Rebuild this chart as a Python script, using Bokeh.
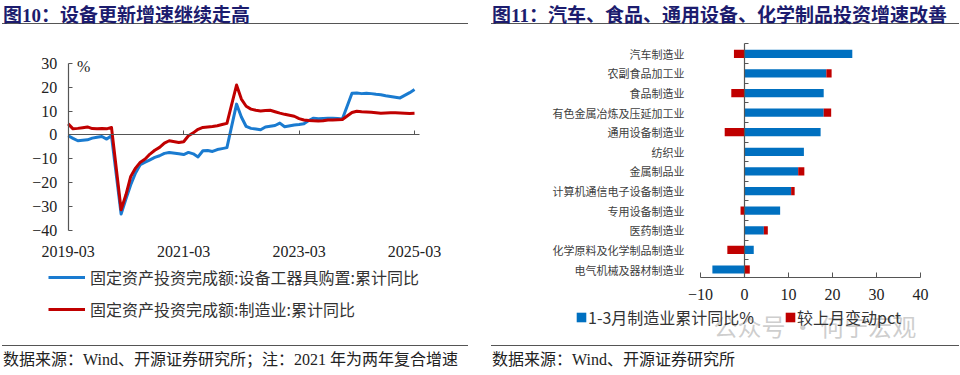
import numpy as np
from bokeh.plotting import figure
from bokeh.models import (ColumnDataSource, LinearAxis, FixedTicker, Legend, LegendItem,
                          Label, Div, Range1d)
from bokeh.layouts import row, column
from bokeh.embed import file_html
from bokeh.resources import INLINE

# ---------------- data: left chart (cumulative YoY, %) ----------------
months = [f"{y}-{m:02d}" for y in range(2019, 2026) for m in range(2, 13)
          if (2019, 3) <= (y, m) <= (2025, 3)]
equip = [-0.4, -1.5, -2.5, -2.3, -2.1, -1.4, -1.0, -0.7, -1.8, -0.4,
         -33.3, -27.0, -21.0, -16.0, -12.5, -11.5, -10.5, -9.5, -8.8, -7.8, -7.4,
         -8.0, -8.3, -7.4, -8.0, -9.3, -6.7, -6.6, -7.0, -6.2, -5.8, -5.4,
         12.9, 7.5, 3.5, 2.7, 2.4, 2.1, 3.3, 3.6, 3.9, 4.9, 3.4,
         4.1, 4.3, 4.6, 6.0, 7.0, 6.7, 6.9, 7.0, 7.0, 6.9, 6.6,
         17.5, 17.6, 17.3, 17.5, 17.3, 17.0, 16.8, 16.4, 16.1, 15.8, 15.5,
         17.7, 19.0]
manuf = [4.6, 2.5, 2.7, 3.0, 3.3, 2.6, 2.5, 2.6, 2.5, 3.1,
         -31.5, -25.2, -17.5, -14.0, -11.5, -10.2, -8.1, -6.5, -5.3, -3.5, -2.5,
         -3.2, -2.9, -0.4, 0.8, 2.3, 3.1, 3.3, 3.5, 3.8, 4.3, 4.8,
         20.9, 15.0, 12.0, 10.8, 10.3, 10.0, 10.2, 10.3, 9.7, 9.1, 8.6,
         7.8, 6.8, 6.2, 6.0, 5.9, 5.8, 5.9, 6.2, 6.2, 6.3, 6.4,
         9.4, 9.9, 9.7, 9.6, 9.5, 9.3, 9.1, 9.2, 9.3, 9.3, 9.2,
         9.0, 9.1]
left_ticks = ["2019-03", "2021-03", "2023-03", "2025-03"]
y_ticks_left = [-40, -30, -20, -10, 0, 10, 20, 30]

# ---------------- data: right chart ----------------
industries = ["汽车制造业", "农副食品加工业", "食品制造业", "有色金属冶炼及压延加工业",
              "通用设备制造业", "纺织业", "金属制品业", "计算机通信电子设备制造业",
              "专用设备制造业", "医药制造业", "化学原料及化学制品制造业", "电气机械及器材制造业"]
ytd_q1 = [24.5, 18.6, 18.0, 18.0, 17.3, 13.5, 12.2, 10.6, 8.1, 4.4, 2.1, -7.3]
chg_pct = [-2.4, 1.2, -3.0, 1.7, -4.5, 0.0, 1.4, 0.8, -0.9, 0.9, -3.9, 1.2]
x_ticks_right = [-10, 0, 10, 20, 30, 40]

BLUE_LINE = "#1a7bd0"
RED_LINE = "#c00000"
BLUE_BAR = "#0070c0"
RED_BAR = "#c00000"
NAVY = "#1c1c6e"
AXIS = "#555555"
CJK = "Noto Sans CJK SC"
SERIF = "Liberation Serif"

PANEL_W, FIG_H = 480, 312


def mindex(s):
    y, m = s.split("-")
    return (int(y) - 2019) * 12 + (int(m) - 3)


# ================= left figure (frame = whole figure, axes placed in data space) ==========
xm = [mindex(s) for s in months]
tpos = [mindex(s) for s in left_ticks]
src1 = ColumnDataSource(dict(x=xm, equip=equip, manuf=manuf))

# pixel layout of the left plot area inside the figure
L_X0, L_PXM = 67.7, 4.81          # x pixel of month 0, pixels per month
L_Y0, L_PXU = 134.3 - 33, 2.38     # y pixel (from top) of value 0, pixels per unit
lx_range = Range1d(-L_X0 / L_PXM, (PANEL_W - L_X0) / L_PXM)
ly_range = Range1d(-(FIG_H - L_Y0) / L_PXU, L_Y0 / L_PXU)

p1 = figure(width=PANEL_W, height=FIG_H, x_range=lx_range, y_range=ly_range,
            output_backend="svg", toolbar_location=None,
            x_axis_location=None, y_axis_location=None,
            min_border_left=0, min_border_right=0, min_border_top=0, min_border_bottom=0)
p1.outline_line_color = None
p1.grid.visible = False
p1.background_fill_color = "white"
p1.border_fill_color = "white"

yax = LinearAxis(fixed_location=0, bounds=(-40, 30), ticker=FixedTicker(ticks=y_ticks_left),
                 axis_line_color=AXIS, axis_line_width=1.2, major_tick_line_color=AXIS,
                 major_tick_in=4, major_tick_out=0,
                 minor_tick_line_color=None, major_label_standoff=11,
                 major_label_text_font=SERIF, major_label_text_font_size="16px",
                 major_label_text_color="#222")
p1.add_layout(yax, "left")

xlab = LinearAxis(fixed_location=-40, ticker=FixedTicker(ticks=tpos),
                  major_label_overrides={t: s for t, s in zip(tpos, left_ticks)},
                  axis_line_color=None, major_tick_line_color=None, minor_tick_line_color=None,
                  major_label_standoff=10, major_label_text_font=SERIF,
                  major_label_text_font_size="16px", major_label_text_color="#222")
p1.add_layout(xlab, "below")

zax = LinearAxis(fixed_location=0, bounds=(0, 73), ticker=FixedTicker(ticks=tpos),
                 major_label_overrides={t: "" for t in tpos},
                 axis_line_color=AXIS, axis_line_width=1.2, major_tick_line_color=AXIS,
                 major_tick_in=4, major_tick_out=0, minor_tick_line_color=None)
p1.add_layout(zax, "below")

rb = p1.line("x", "equip", source=src1, line_color=BLUE_LINE, line_width=3, line_join="round")
rr = p1.line("x", "manuf", source=src1, line_color=RED_LINE, line_width=3, line_join="round")

p1.add_layout(Label(x=3.2, y=28.7, text="%", text_align="center", text_baseline="middle",
                    text_font=SERIF, text_font_size="16px", text_color="#222"))

leg1 = Legend(items=[LegendItem(label="固定资产投资完成额:设备工器具购置:累计同比", renderers=[rb]),
                     LegendItem(label="固定资产投资完成额:制造业:累计同比", renderers=[rr])],
              location=(48, 24), orientation="vertical", glyph_width=37, glyph_height=20,
              label_height=20, spacing=8, padding=0, margin=0, border_line_color=None,
              background_fill_alpha=0, label_standoff=5, label_text_font=CJK,
              label_text_font_size="16px", label_text_color="#333")
p1.add_layout(leg1)

# ================= right figure ==================================================
n = len(industries)
yv = [n - 1 - i for i in range(n)]
ytd_a = np.array(ytd_q1)
chg_a = np.array(chg_pct)
pos_base = np.maximum(ytd_a, 0)
neg_base = np.minimum(ytd_a, 0)
b_left = np.minimum(ytd_a, 0)
b_right = np.maximum(ytd_a, 0)
r_left = np.where(chg_a >= 0, pos_base, neg_base + chg_a)
r_right = np.where(chg_a >= 0, pos_base + chg_a, neg_base)
src2 = ColumnDataSource(dict(y=yv, bl=b_left, br=b_right, rl=r_left, rr=r_right))

R_X0, R_PXU = 220.0 + 44.0, 4.4      # x pixel of value 0, pixels per unit
R_Y0, R_PXR = 236.0, 19.61           # y pixel (from top) of row 0, pixels per row
rx_range = Range1d(-R_X0 / R_PXU, (PANEL_W - R_X0) / R_PXU)
ry_range = Range1d(-(FIG_H - R_Y0) / R_PXR, R_Y0 / R_PXR)
BAND_BOTTOM, BAND_TOP = -0.393, 11.5

p2 = figure(width=PANEL_W, height=FIG_H, x_range=rx_range, y_range=ry_range,
            output_backend="svg", toolbar_location=None,
            x_axis_location=None, y_axis_location=None,
            min_border_left=0, min_border_right=0, min_border_top=0, min_border_bottom=0)
p2.outline_line_color = None
p2.grid.visible = False
p2.background_fill_color = "white"
p2.border_fill_color = "white"

cax = LinearAxis(fixed_location=x_ticks_right[0], ticker=FixedTicker(ticks=yv),
                 major_label_overrides={y: c for y, c in zip(yv, industries)},
                 axis_line_color=None, major_tick_line_color=None, minor_tick_line_color=None,
                 major_label_standoff=10, major_label_text_font=CJK,
                 major_label_text_font_size="11px", major_label_text_color="#404040")
p2.add_layout(cax, "left")

bounds = [k + 0.5 for k in range(0, n)]
vax = LinearAxis(fixed_location=0, bounds=(BAND_BOTTOM, BAND_TOP), ticker=FixedTicker(ticks=bounds),
                 major_label_overrides={b: "" for b in bounds},
                 axis_line_color=AXIS, axis_line_width=1.2, major_tick_line_color=AXIS,
                 major_tick_in=4, major_tick_out=0, minor_tick_line_color=None)
p2.add_layout(vax, "left")

bax = LinearAxis(fixed_location=BAND_BOTTOM, bounds=(x_ticks_right[0], x_ticks_right[-1]),
                 ticker=FixedTicker(ticks=x_ticks_right), axis_line_color=AXIS,
                 axis_line_width=1.2, major_tick_line_color=AXIS, major_tick_in=5,
                 major_tick_out=0, minor_tick_line_color=None, major_label_standoff=12,
                 major_label_text_font=SERIF, major_label_text_font_size="16px",
                 major_label_text_color="#222")
p2.add_layout(bax, "below")

hb = p2.hbar(y="y", left="bl", right="br", height=0.42, source=src2,
             fill_color=BLUE_BAR, line_color=None)
hr = p2.hbar(y="y", left="rl", right="rr", height=0.42, source=src2,
             fill_color=RED_BAR, line_color=None)

leg2 = Legend(items=[LegendItem(label="1-3月制造业累计同比%", renderers=[hb]),
                     LegendItem(label="较上月变动pct", renderers=[hr])],
              location=(95, 16), orientation="horizontal", glyph_width=12, glyph_height=12,
              label_height=12, spacing=30, padding=0, margin=0, border_line_color=None,
              background_fill_alpha=0, label_standoff=1, label_text_font=CJK,
              label_text_font_size="16px", label_text_color="#333")
p2.add_layout(leg2)

p2.add_layout(Label(x=-7.05, y=-2.88, text="公众号 · 何宁宏观", text_baseline="middle",
                    text_font=CJK, text_font_size="24px", text_color="#b8b8b8",
                    text_alpha=0.7))

# ================= titles & sources =================
FONT_CSS = "font-family:'Liberation Serif','Noto Sans CJK SC';"


def title_div(text, indent, rule_w):
    html = (f'<div style="margin-left:{indent}px;width:{rule_w}px;height:24px;padding-top:7px;'
            f'border-bottom:1.5px solid #555;{FONT_CSS}font-weight:bold;font-size:19px;'
            f'line-height:18px;color:{NAVY};white-space:nowrap;padding-left:1px;">{text}</div>')
    return Div(text=html, width=PANEL_W, height=33, margin=0)


def source_div(text, indent, rule_w):
    html = (f'<div style="margin-left:{indent}px;width:{rule_w}px;height:22px;padding-top:6px;'
            f'border-top:1.5px solid #555;{FONT_CSS}font-size:16px;padding-left:1px;'
            f'line-height:16px;color:#222;white-space:nowrap;">{text}</div>')
    return Div(text=html, width=PANEL_W, height=30, margin=0)


t1 = title_div("图10：设备更新增速继续走高", 2, 466)
t2 = title_div("图11：汽车、食品、通用设备、化学制品投资增速改善", 11, 468)
s1 = source_div("数据来源：Wind、开源证券研究所；注：2021 年为两年复合增速", 2, 466)
s2 = source_div("数据来源：Wind、开源证券研究所", 11, 468)

layout = row(column(t1, p1, s1, spacing=0), column(t2, p2, s2, spacing=0), spacing=0)

open("out.html", "w").write(file_html(layout, INLINE))
